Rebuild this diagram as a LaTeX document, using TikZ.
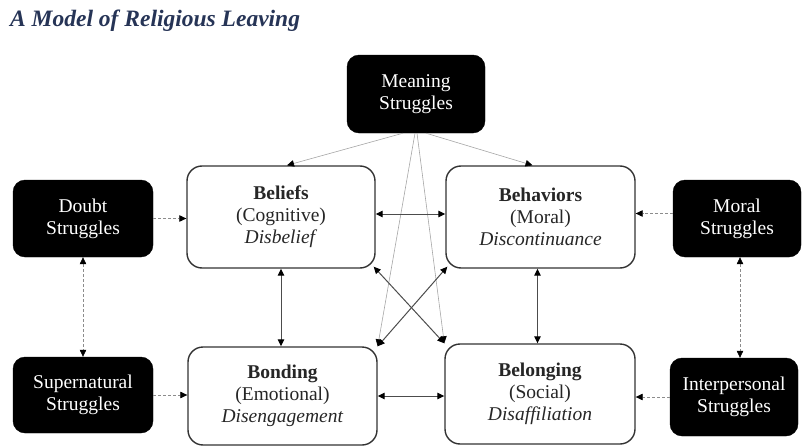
\documentclass[tikz,border=0pt]{standalone}
\usepackage{fontspec}
\setmainfont{Liberation Serif}
\usetikzlibrary{arrows.meta}
\definecolor{titleblue}{RGB}{38,52,86}
\begin{document}
\begin{tikzpicture}[x=1pt,y=-1pt,
  struggle/.style={fill=black, draw=black, rounded corners=12pt, text=white,
    align=center, inner sep=0pt, font=\fontsize{19.5}{22}\selectfont},
  dim/.style={draw=black!80, line width=1.4pt, rounded corners=15pt, fill=white,
    text=black!85, align=center, inner sep=0pt, font=\fontsize{19.5}{22}\selectfont},
  hd/.tip={Triangle[length=7pt,width=6.5pt,color=black]},
  link/.style={draw=black!70, line width=1pt},
  weak/.style={draw=black!35, line width=0.6pt},
  faint/.style={draw=black!45, line width=0.6pt, dash pattern=on 3pt off 2pt},
]
\useasboundingbox (0,0) rectangle (804,447);

% title
\node[anchor=base west, inner sep=0pt, text=titleblue,
  font=\fontsize{23.5}{28}\selectfont\bfseries\itshape] (title) at (10,27)
  {A Model of Religious Leaving};

% struggle sources
\node[struggle, minimum width=138pt, minimum height=78pt] (M)  at (416,94)    {Meaning\\Struggles};
\node[struggle, minimum width=140pt, minimum height=77pt] (D)  at (83,218.5)  {Doubt\\Struggles};
\node[struggle, minimum width=140pt, minimum height=76pt] (S)  at (83,395)    {Supernatural\\Struggles};
\node[struggle, minimum width=128pt, minimum height=77pt] (Mo) at (737,218.5) {Moral\\Struggles};
\node[struggle, minimum width=128pt, minimum height=78pt] (I)  at (734,397)   {Interpersonal\\Struggles};

% the four dimensions
\node[dim, minimum width=188pt, minimum height=102pt] (B1) at (281,217)
  {\textbf{Beliefs}\\(Cognitive)\\\textit{Disbelief}};
\node[dim, minimum width=189pt, minimum height=102pt] (B2) at (540.5,217)
  {\textbf{Behaviors}\\(Moral)\\\textit{Discontinuance}};
\node[dim, minimum width=189pt, minimum height=98pt] (B3) at (282.5,396)
  {\textbf{Bonding}\\(Emotional)\\\textit{Disengagement}};
\node[dim, minimum width=190pt, minimum height=100pt] (B4) at (540,394)
  {\textbf{Belonging}\\(Social)\\\textit{Disaffiliation}};

% corner points for the crossing links
\coordinate (c1) at ([shift={(-2pt,2pt)}]B1.south east);
\coordinate (c2) at ([shift={(2pt,2pt)}]B2.south west);
\coordinate (c3) at (B3.north east);
\coordinate (c4) at (B4.north west);

% struggles feeding the dimensions
\draw[faint,-hd] (D.east) -- (D.east -| B1.west);
\draw[faint,-hd] (S.east) -- (S.east -| B3.west);
\draw[faint,-hd] ([yshift=5pt]Mo.west) -- ([yshift=5pt]Mo.west -| B2.east);
\draw[faint,-hd] (I.west) -- (I.west -| B4.east);
\draw[faint,hd-hd] (D.south) -- (S.north);
\draw[faint,hd-hd] ([xshift=3pt]Mo.south) -- ([xshift=3pt]Mo.south |- I.north);

% meaning struggles reach every dimension
\draw[weak,-hd] ([xshift=-13pt]M.south) -- ([xshift=6pt]B1.north);
\draw[weak,-hd] ([xshift=10pt]M.south) -- ([xshift=-8pt]B2.north);
\draw[weak,-hd] ([xshift=-1pt]M.south) -- (c3);
\draw[weak,-hd] ([xshift=1pt]M.south) -- (c4);

% links among the dimensions
\draw[link,hd-hd] ([yshift=3pt]B1.east) -- ([yshift=3pt]B1.east -| B2.west);
\draw[link,hd-hd] (B3.east) -- (B3.east -| B4.west);
\draw[link,hd-hd] (B1.south) -- (B1.south |- B3.north);
\draw[link,hd-hd] ([xshift=-3pt]B2.south) -- ([xshift=-3pt]B2.south |- B4.north);
\draw[link,hd-hd] (c1) -- (c4);
\draw[link,hd-hd] (c2) -- (c3);
\end{tikzpicture}
\end{document}
